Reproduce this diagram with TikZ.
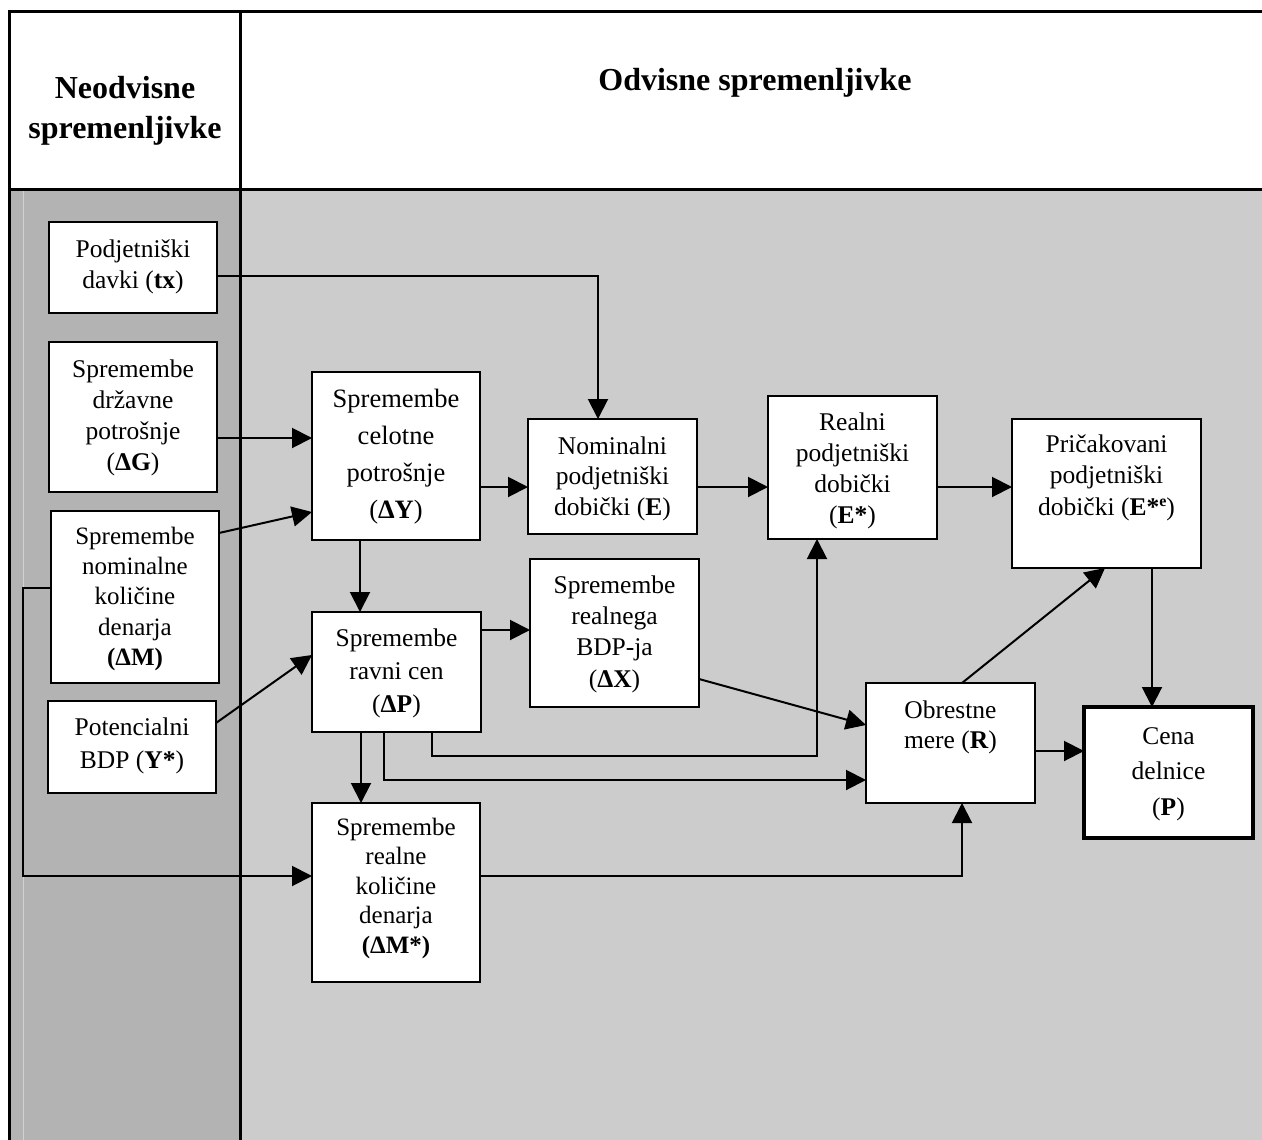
\documentclass[tikz,border=0pt]{standalone}
\usepackage{fontspec}
\setmainfont{Liberation Serif}
\usetikzlibrary{arrows.meta,calc}
\definecolor{leftgray}{HTML}{B3B3B3}
\definecolor{rightgray}{HTML}{CCCCCC}
\definecolor{faint}{HTML}{D2D2D2}
\newcommand\fs{\rule{0pt}{22pt}}
\newcommand\fa{\fontsize{25.5}{31}\selectfont}
% #1 opts, #2 x1, #3 y1, #4 x2, #5 y2, #6 name, #7 first baseline, #8 font, #9 text
\newcommand\mybox[9][]{%
  \node[box,#1,minimum width={#4-#2},minimum height={#5-#3}] (#6) at ({(#2+#4)/2},{(#3+#5)/2}) {};
  \node[lbl,#1,font=#8] (#6-t) at ({(#2+#4)/2},{#7-22}) {\fs #9};}
\begin{document}
\begin{tikzpicture}[x=1pt,y=-1pt,
  box/.style={draw,fill=white,line width=2pt,inner sep=0pt,outer sep=0pt},
  lbl/.style={align=center,inner sep=0pt,anchor=north},
  head/.style={align=center,inner sep=0pt,font=\fontsize{32}{40}\selectfont\bfseries},
  arr/.style={line width=2pt,-{Triangle[length=20pt,width=20pt]}},
  frameline/.style={line width=3pt}]

\useasboundingbox (0,0) rectangle (1262,1140);
\fill[white] (0,0) rectangle (1262,1140);
% body backgrounds
\fill[leftgray] (9,189) rectangle (240,1140);
\fill[rightgray] (240,189) rectangle (1262,1140);
\draw[faint,line width=1pt] (23,189) -- (23,1140);
% frame
\draw[frameline] (1262,12) -- (9,12) -- (9,1140);
\draw[frameline] (240,12) -- (240,1140);
\draw[frameline] (9,189) -- (1262,189);
% headings
\node[head,anchor=north] (h1) at (125,75) {\rule{0pt}{23pt}Neodvisne\\spremenljivke};
\node[head,anchor=base] (h2) at (755,91) {Odvisne spremenljivke};

% boxes
\mybox{49}{222}{217}{313}{tx}{257}{\fa}{Podjetniški\\davki (\textbf{tx})}
\mybox{49}{342}{217}{492}{G}{377}{\fa}{Spremembe\\državne\\potrošnje\\(\textbf{ΔG})}
\mybox{51}{511}{219}{683}{M}{544}{\fontsize{25}{30.3}\selectfont}{Spremembe\\nominalne\\količine\\denarja\\\textbf{(ΔM)}}
\mybox{48}{701}{216}{793}{Ys}{735}{\fontsize{25.5}{33}\selectfont}{Potencialni\\BDP (\textbf{Y*})}
\mybox{312}{372}{480}{540}{Y}{407}{\fontsize{26.5}{37}\selectfont}{Spremembe\\celotne\\potrošnje\\(\textbf{ΔY})}
\mybox{528}{419}{697}{534}{E}{454}{\fontsize{25.5}{30.5}\selectfont}{Nominalni\\podjetniški\\dobički (\textbf{E})}
\mybox{530}{559}{699}{707}{X}{593}{\fontsize{25.5}{31.3}\selectfont}{Spremembe\\realnega\\BDP-ja\\(\textbf{ΔX})}
\mybox{312}{612}{481}{732}{dP}{646}{\fontsize{25.5}{33}\selectfont}{Spremembe\\ravni cen\\(\textbf{ΔP})}
\mybox{768}{396}{937}{539}{Es}{430}{\fa}{Realni\\podjetniški\\dobički\\(\textbf{E*})}
\mybox{1012}{419}{1201}{568}{Ee}{452}{\fontsize{25.5}{31.5}\selectfont}{Pričakovani\\podjetniški\\dobički (\textbf{E*}\raisebox{9pt}{\fontsize{16}{16}\selectfont\bfseries e})}
\mybox{866}{683}{1035}{803}{R}{718}{\fontsize{25.5}{30}\selectfont}{Obrestne\\mere (\textbf{R})}
\mybox[line width=4pt]{1084}{707}{1253}{838}{Pc}{742}{\fontsize{25.5}{35.5}\selectfont}{Cena\\delnice\\(\textbf{P})}
\mybox{312}{803}{480}{982}{Ms}{835}{\fontsize{25}{29.5}\selectfont}{Spremembe\\realne\\količine\\denarja\\\textbf{(ΔM*)}}

% connectors
\coordinate (k1) at (598,276);
\draw[arr] (tx.east |- k1) -- (k1) -- (E.north -| k1);
\draw[arr] (G.east |- 0,438) -- (Y.west |- 0,438);
\draw[arr] (M.east |- 0,533) -- (Y.west |- 0,512);
\coordinate (k4a) at (23,588);
\coordinate (k4b) at (23,876);
\draw[arr] (M.west |- k4a) -- (k4a) -- (k4b) -- (Ms.west |- k4b);
\draw[arr] (Ys.east |- 0,723) -- (dP.west |- 0,655);
\draw[arr] (Y.south -| 360,0) -- (dP.north -| 360,0);
\draw[arr] (Y.east |- 0,487) -- (E.west |- 0,487);
\draw[arr] (E.east |- 0,487) -- (Es.west |- 0,487);
\draw[arr] (Es.east |- 0,487) -- (Ee.west |- 0,487);
\draw[arr] (dP.east |- 0,630) -- (X.west |- 0,630);
\coordinate (k11a) at (432,756);
\coordinate (k11b) at (817,756);
\draw[arr] (dP.south -| k11a) -- (k11a) -- (k11b) -- (Es.south -| k11b);
\coordinate (k12) at (384,780);
\draw[arr] (dP.south -| k12) -- (k12) -- (R.west |- k12);
\draw[arr] (dP.south -| 361,0) -- (Ms.north -| 361,0);
\draw[arr] (X.east |- 0,679) -- (R.west |- 0,725);
\draw[arr] (R.north -| 962,0) -- (Ee.south -| 1105,0);
\draw[arr] (Ee.south -| 1152,0) -- (Pc.north -| 1152,0);
\draw[arr] (R.east |- 0,751) -- (Pc.west |- 0,751);
\coordinate (k18) at (962,876);
\draw[arr] (Ms.east |- k18) -- (k18) -- (R.south -| k18);
\end{tikzpicture}
\end{document}
